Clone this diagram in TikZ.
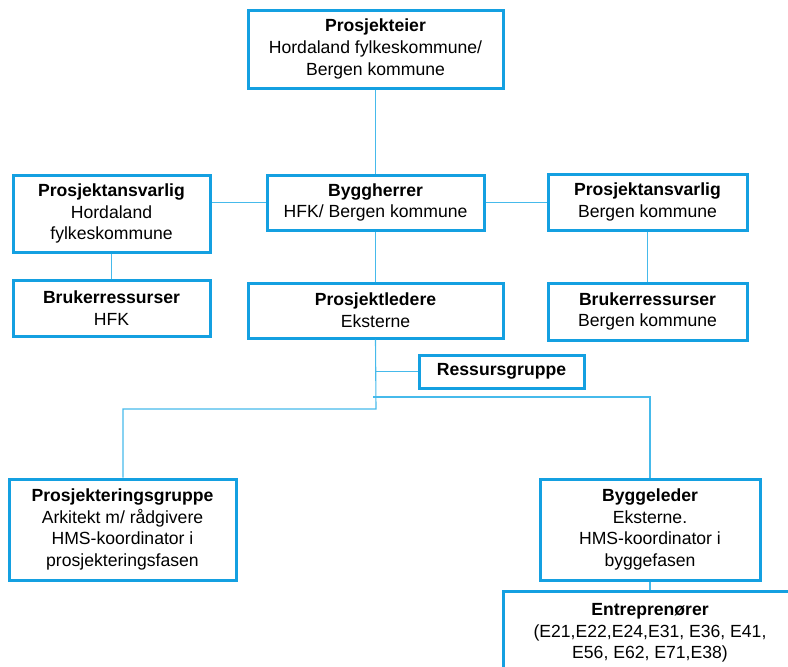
\documentclass[tikz,border=0pt]{standalone}
\usepackage{fontspec}
\setmainfont{Liberation Sans}
\definecolor{boxblue}{RGB}{20,160,225}
\definecolor{lineblue}{RGB}{70,186,235}
\begin{document}
\begin{tikzpicture}[x=1pt,y=-1pt,
  orgbox/.style={draw=boxblue,line width=3pt,fill=white,align=center,inner sep=0pt,
    font=\fontsize{17.6}{21.7}\selectfont},
  conn/.style={draw=lineblue,line width=1.1pt}]
\useasboundingbox (0,0) rectangle (788,667);
\coordinate (split) at (376,409);
\coordinate (rgj) at (376,371.5);
\coordinate (hl) at (373,397);
\coordinate (hr) at (650,397);
\coordinate (lt) at (123,409);
\node[orgbox,minimum width=255pt,minimum height=78pt] (eier) at (375.5,49) {\textbf{Prosjekteier}\\Hordaland fylkeskommune/\\Bergen kommune};
\node[orgbox,minimum width=197pt,minimum height=77pt] (pa1) at (111.5,213.5) {\textbf{Prosjektansvarlig}\\Hordaland\\fylkeskommune};
\node[orgbox,minimum width=217pt,minimum height=55pt] (bh) at (375.5,202.5) {\textbf{Byggherrer}\\HFK/ Bergen kommune};
\node[orgbox,minimum width=199pt,minimum height=56pt] (pa2) at (647.5,202) {\textbf{Prosjektansvarlig}\\Bergen kommune};
\node[orgbox,minimum width=197pt,minimum height=56pt] (br1) at (111.5,308) {\textbf{Brukerressurser}\\HFK};
\node[orgbox,minimum width=255pt,minimum height=55pt] (pl) at (375.5,310.5) {\textbf{Prosjektledere}\\Eksterne};
\node[orgbox,minimum width=199pt,minimum height=57pt] (br2) at (647.5,311.5) {\textbf{Brukerressurser}\\Bergen kommune};
\node[orgbox,minimum width=165pt,minimum height=33pt] (rg) at (501.5,371.5) {\textbf{Ressursgruppe}};
\node[orgbox,minimum width=227pt,minimum height=101pt] (pg) at (122.5,529.5) {\textbf{Prosjekteringsgruppe}\\Arkitekt m/ rådgivere\\HMS-koordinator i\\prosjekteringsfasen};
\node[orgbox,minimum width=220pt,minimum height=101pt] (bl) at (650,529.5) {\textbf{Byggeleder}\\Eksterne.\\HMS-koordinator i\\byggefasen};
\node[orgbox,minimum width=294pt,minimum height=84pt] (ent) at (650,633) {\textbf{Entreprenører}\\(E21,E22,E24,E31, E36, E41,\\E56, E62, E71,E38)};
\draw[conn] (eier.south) -- (bh.north);
\draw[conn] (pa1.east |- bh.west) -- (bh.west);
\draw[conn] (bh.east) -- (pa2.west |- bh.east);
\draw[conn] (pa1.south) -- (br1.north);
\draw[conn] (bh.south -| pl.north) -- (pl.north);
\draw[conn] (pa2.south) -- (br2.north);
\draw[conn] (pl.south) -- (split) -- (lt) -- (pg.north -| lt);
\draw[conn] (rgj) -- (rg.west);
\draw[conn] (hl) -- (hr) -- (bl.north);
\draw[conn] (bl.south) -- (ent.north);
\end{tikzpicture}
\end{document}
